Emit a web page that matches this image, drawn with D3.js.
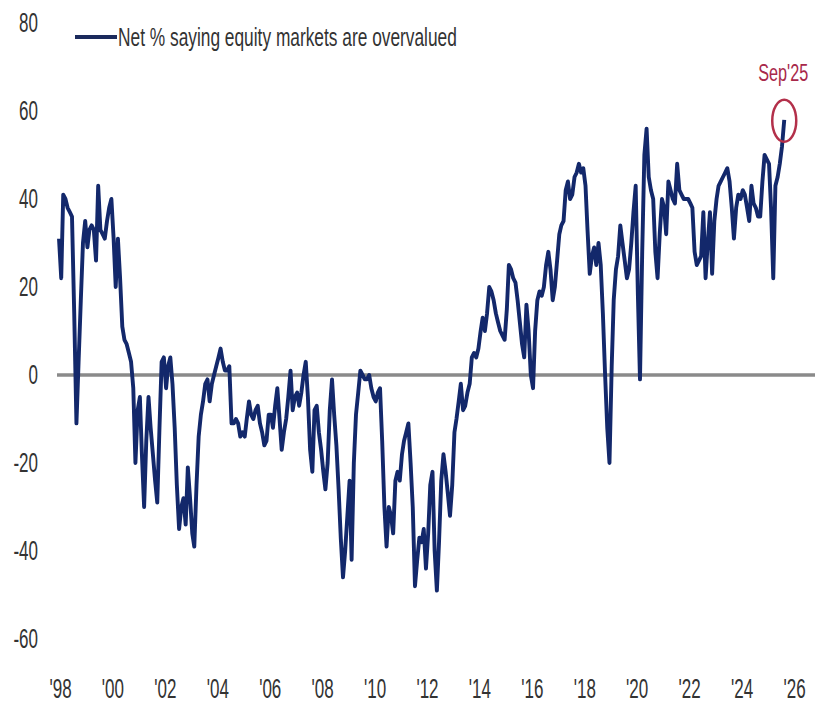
<!DOCTYPE html>
<html lang="en">
	<head>
		<meta charset="utf-8">
		<title>Net % saying equity markets are overvalued</title>
		<style>
			body { margin: 0; background: #fff; }
			.tick text {
				font-family: "Liberation Sans", Arial, sans-serif;
				font-size: 27px;
				fill: #333;
			}
			.zero { stroke: #8a8a8a; stroke-width: 3.5px; }
			.series { fill: none; stroke: #13286b; stroke-width: 3.9px; stroke-linejoin: round; }
			.legend text {
				font-family: "Liberation Sans", Arial, sans-serif;
				font-size: 25px;
				fill: #333;
			}
		</style>
	</head>
	<body>
		<div id="graphic"></div>

		<script src="https://cdnjs.cloudflare.com/ajax/libs/d3/7.8.5/d3.min.js"></script>
		<script>
            // monthly readings, Jan 1998 .. Sep 2025
            var startYear = 1998;
            var netOvervalued = [
                31, 22, 41, 40, 38, 37, 36, 14, -11, 3, 17, 30,        // 1998
                35, 29, 33, 34, 33, 26, 43, 33, 32, 31, 35, 38,        // 1999
                40, 31, 20, 31, 22, 11, 8, 7, 5, 3, -3, -20,           // 2000
                -8, -5, -18, -30, -15, -5, -12, -18, -24, -29, -12, 3, // 2001
                4, -3, 2, 4, -2, -12, -25, -35, -30, -28, -34, -21,    // 2002
                -28, -36, -39, -25, -14, -9, -6, -2, -1, -6, -2, 0,    // 2003
                2, 4, 6, 3, 1, 1, 2, -11, -11, -10, -11, -14,          // 2004
                -13, -14, -10, -6, -9, -10, -8, -7, -11, -13, -16, -15,// 2005
                -9, -9, -12, -7, -3, -10, -17, -13, -10, -5, 1, -8,    // 2006
                -5, -4, -7, -4, 0, 3, -5, -17, -22, -8, -7, -13,       // 2007
                -17, -22, -26, -20, -8, -1, -9, -16, -26, -37, -46, -40, // 2008
                -32, -24, -42, -20, -9, -4, 1, 0, -1, -1, 0, -3,       // 2009
                -5, -6, -4, -3, -15, -30, -39, -30, -32, -36, -24, -22,// 2010
                -24, -18, -15, -13, -11, -20, -30, -48, -42, -37, -38, -35, // 2011
                -44, -36, -25, -22, -40, -49, -38, -24, -18, -22, -27, -32, // 2012
                -25, -13, -10, -6, -2, -8, -7, -4, -2, 4, 5, 4,        // 2013
                6, 10, 13, 10, 14, 20, 19, 17, 14, 12, 10, 9,          // 2014
                8, 15, 25, 24, 22, 21, 17, 12, 7, 4, 16, 10,           // 2015
                0, -3, 10, 17, 19, 18, 20, 25, 28, 24, 17, 20,         // 2016
                26, 32, 34, 35, 42, 44, 40, 41, 45, 46, 48, 46,        // 2017
                47, 43, 33, 23, 27, 29, 25, 30, 25, 14, 0, -12,        // 2018
                -20, 2, 17, 24, 27, 34, 30, 26, 22, 24, 30, 37,        // 2019
                43, 18, -1, 28, 50, 56, 45, 42, 40, 28, 22, 32,        // 2020
                40, 38, 32, 44, 42, 40, 39, 48, 42, 41, 40, 40,        // 2021
                40, 39, 38, 28, 25, 26, 27, 37, 22, 30, 37, 23,        // 2022
                35, 40, 43, 44, 45, 46, 47, 44, 38, 31, 38, 41,        // 2023
                40, 42, 41, 38, 35, 43, 39, 38, 36, 36, 44, 50,        // 2024
                49, 48, 38, 22, 43, 45, 48, 52, 58                     // 2025
            ];
            var yTicks = [-60, -40, -20, 0, 20, 40, 60, 80];
            var xTickYears = [1998, 2000, 2002, 2004, 2006, 2008, 2010, 2012, 2014, 2016, 2018, 2020, 2022, 2024, 2026];
            var seriesName = 'Net % saying equity markets are overvalued';
            var calloutLabel = "Sep'25";

            var width = 815,
                height = 705,
                squeezeK = 0.63;

            var data = netOvervalued.map(function(v, i) {
                return { date: new Date(startYear, i, 1), value: v };
            });

            var x = d3.scaleTime()
                      .domain([new Date(1998, 0, 1), new Date(2026, 0, 1)])
                      .range([59, 793]);

            var y = d3.scaleLinear()
                      .domain([-60, 80])
                      .range([639, 23]);

            var svg = d3.select('#graphic')
                        .append('svg')
                        .attr('width', width)
                        .attr('height', height);

            svg.append('line')
               .classed('zero', true)
               .attr('x1', 57)
               .attr('x2', width)
               .attr('y1', y(0))
               .attr('y2', y(0));

            // tick text is narrowed around its own anchor point (x = 0 inside each tick)
            var yAxis = svg.append('g')
               .attr('transform', 'translate(38,0)')
               .call(d3.axisLeft(y).tickValues(yTicks).tickSize(0).tickPadding(0)
                       .tickFormat(function(d) { return String(d); }));
            yAxis.select('.domain').remove();
            yAxis.selectAll('text').attr('transform', 'scale(' + squeezeK + ',1)');

            var xAxis = svg.append('g')
               .attr('transform', 'translate(1,679)')
               .call(d3.axisBottom(x)
                       .tickValues(xTickYears.map(function(yr) { return new Date(yr, 0, 1); }))
                       .tickFormat(d3.timeFormat("'%y"))
                       .tickSize(0).tickPadding(0));
            xAxis.select('.domain').remove();
            xAxis.selectAll('text').attr('transform', 'scale(' + squeezeK + ',1)');

            var line = d3.line()
                         .x(function(d) { return x(d.date); })
                         .y(function(d) { return y(d.value); });

            svg.append('path')
               .datum(data)
               .classed('series', true)
               .attr('d', line);

            // legend
            var legend = svg.append('g').classed('legend', true);
            legend.append('line')
                  .attr('x1', 75).attr('x2', 117)
                  .attr('y1', 37).attr('y2', 37)
                  .attr('stroke', '#1b2a5c')
                  .attr('stroke-width', 4);
            var legendText = legend.append('g')
                  .attr('transform', 'translate(118,46)')
                  .append('text')
                  .text(seriesName);
            var lw = legendText.node().getComputedTextLength();
            legendText.attr('transform', 'scale(' + (339 / lw) + ',1)');

            // last point call-out
            var last = data[data.length - 1];
            svg.append('ellipse')
               .attr('cx', x(last.date))
               .attr('cy', y(last.value) + 1)
               .attr('rx', 12)
               .attr('ry', 21)
               .attr('fill', 'none')
               .attr('stroke', '#b3304a')
               .attr('stroke-width', 2.5);
            var callout = svg.append('g')
               .attr('transform', 'translate(' + (x(last.date) - 1) + ',81)')
               .append('text')
               .attr('text-anchor', 'middle')
               .attr('font-family', '"Liberation Sans", Arial, sans-serif')
               .attr('font-size', 24)
               .attr('fill', '#a8284a')
               .text(calloutLabel);
            var cw = callout.node().getComputedTextLength();
            callout.attr('transform', 'scale(' + (50 / cw) + ',1)');

		</script>
	</body>
</html>
